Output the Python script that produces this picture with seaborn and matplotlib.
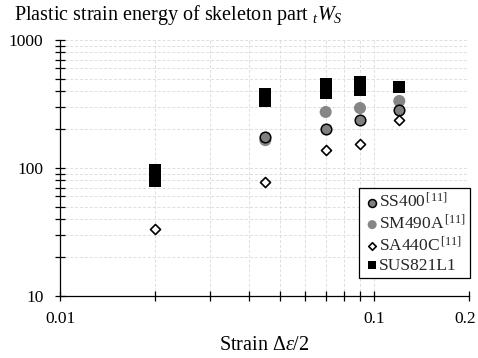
import numpy as np
import pandas as pd
import matplotlib
matplotlib.use("Agg")
import matplotlib.pyplot as plt
import matplotlib.transforms as mtransforms
from matplotlib.ticker import LogLocator, FixedLocator, NullFormatter, FixedFormatter
import seaborn as sns

# Data
ss400_x = [0.045, 0.07, 0.09, 0.12]
ss400_y = [175, 202, 237, 284]
sm490a_x = [0.045, 0.07, 0.09, 0.12]
sm490a_y = [165, 274, 294, 334]
sa440c_x = [0.02, 0.045, 0.07, 0.09, 0.12]
sa440c_y = [33.4, 78, 138, 154, 237]
sus_x = [0.02, 0.02, 0.045, 0.045, 0.07, 0.07, 0.09, 0.09, 0.12]
sus_y = [97, 79, 378, 334, 455, 385, 470, 410, 432]

labels = ["SS400$^{\\,\\mathregular{[11]}}$", "SM490A$^{\\,\\mathregular{[11]}}$",
          "SA440C$^{\\,\\mathregular{[11]}}$", "SUS821L1"]
x_ticks = [0.01, 0.1, 0.2]
x_ticklabels = ["0.01", "0.1", "0.2"]
y_ticks = [10, 100, 1000]
y_ticklabels = ["10", "100", "1000"]

sns.set_theme(style="white")
plt.rcParams['font.family'] = ['Liberation Serif', 'DejaVu Serif']
plt.rcParams['mathtext.fontset'] = 'custom'
plt.rcParams['mathtext.rm'] = 'Liberation Serif'
plt.rcParams['mathtext.it'] = 'Liberation Serif:italic'
plt.rcParams['mathtext.bf'] = 'Liberation Serif:bold'

fig = plt.figure(figsize=(4.78, 3.58), dpi=100)
ax = fig.add_axes([60/478, 1-296/358, (469-60)/478, (296-40)/358])

df_ss = pd.DataFrame({"x": ss400_x, "y": ss400_y})
df_sm = pd.DataFrame({"x": sm490a_x, "y": sm490a_y})
df_sa = pd.DataFrame({"x": sa440c_x, "y": sa440c_y})
df_sus = pd.DataFrame({"x": sus_x, "y": sus_y})

sns.scatterplot(data=df_sm, x="x", y="y", ax=ax, marker="o", s=75,
                color="#868686", edgecolor="none", linewidth=0, label=labels[1], zorder=3)
sns.scatterplot(data=df_ss, x="x", y="y", ax=ax, marker="o", s=58,
                color="#808080", edgecolor="black", linewidth=1.1, label=labels[0], zorder=4)
sns.scatterplot(data=df_sa, x="x", y="y", ax=ax, marker="D", s=26,
                color="white", edgecolor="black", linewidth=1.2, label=labels[2], zorder=4)
sns.scatterplot(data=df_sus, x="x", y="y", ax=ax, marker="s", s=72,
                color="black", edgecolor="black", linewidth=0, label=labels[3], zorder=5)

ax.set_xscale("log")
ax.set_yscale("log")
ax.set_xlim(0.01, 0.2)
ax.set_ylim(10, 1000)

ax.xaxis.set_major_locator(FixedLocator(x_ticks))
ax.xaxis.set_major_formatter(FixedFormatter(x_ticklabels))
ax.xaxis.set_minor_locator(FixedLocator([0.02, 0.03, 0.04, 0.05, 0.06, 0.07, 0.08, 0.09]))
ax.xaxis.set_minor_formatter(NullFormatter())
ax.yaxis.set_major_locator(FixedLocator(y_ticks))
ax.yaxis.set_major_formatter(FixedFormatter(y_ticklabels))
ax.yaxis.set_minor_locator(LogLocator(base=10, subs=np.arange(2, 10)))
ax.yaxis.set_minor_formatter(NullFormatter())

ax.grid(True, which="both", linestyle=(0, (3, 2)), color="#dedede", linewidth=0.7)
ax.set_axisbelow(True)
for s in ["top", "right"]:
    ax.spines[s].set_visible(False)
for s in ["left", "bottom"]:
    ax.spines[s].set_color("black")
    ax.spines[s].set_linewidth(0.9)

ax.tick_params(axis="both", which="both", direction="inout", length=7, width=0.9,
               color="black", labelsize=12.5, labelcolor="black")
ax.tick_params(axis="x", which="both", bottom=True, pad=7)
ax.tick_params(axis="y", which="both", left=True, pad=8.5)

# nudge the last x tick label ("0.2") slightly left so it stays inside the figure
last_lbl = ax.get_xticklabels()[-1]
last_lbl.set_transform(last_lbl.get_transform() +
                       mtransforms.ScaledTranslation(-4/100, 0, fig.dpi_scale_trans))

ax.set_xlabel("Strain $\\Delta\\mathit{\\varepsilon}$/2", fontsize=14.5, color="black", labelpad=7)
ax.set_ylabel("")

fig.text(14/478, 1-15/358, "Plastic strain energy of skeleton part $_{t}W_{S}$",
         fontsize=14.5, ha="left", va="center", color="black")

handles, labs = ax.get_legend_handles_labels()
order = [labs.index(l) for l in labels]
leg = ax.legend([handles[i] for i in order], [labs[i] for i in order],
                loc="lower right", bbox_to_anchor=(1.003, 0.07), frameon=True, fancybox=False,
                fontsize=12.5, handletextpad=-0.1, handlelength=1.0, borderpad=0.25,
                labelspacing=0.15, borderaxespad=0.0, framealpha=1, markerscale=0.75)
leg.get_frame().set_edgecolor("black")
leg.get_frame().set_linewidth(0.9)

fig.savefig("out.png", dpi=100)
